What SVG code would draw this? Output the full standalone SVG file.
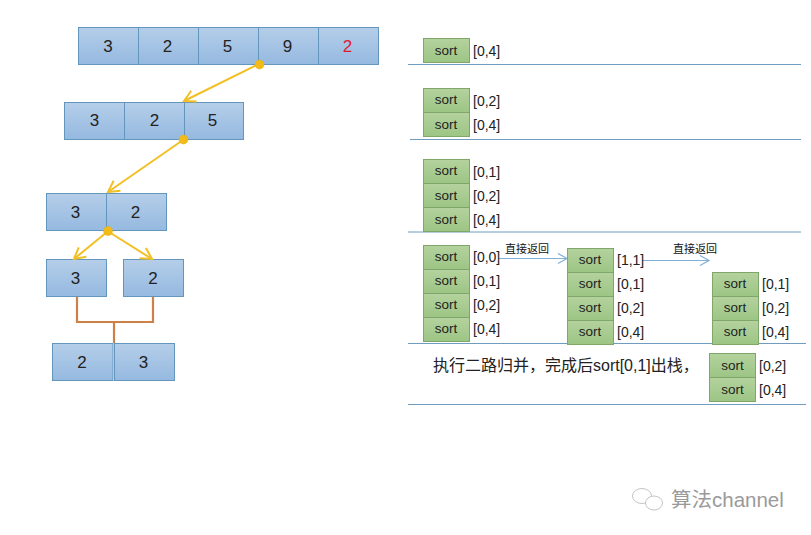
<svg xmlns="http://www.w3.org/2000/svg" width="811" height="535" viewBox="0 0 811 535">
<style>
.c{fill:url(#b);stroke:#6496bd;stroke-width:1}
.s{fill:url(#g);stroke:#7fa76a;stroke-width:1}
text{font-family:"Liberation Sans","Noto Sans CJK SC",sans-serif;fill:#222}
.n{font-size:17px;text-anchor:middle}
.t{font-size:13.5px;text-anchor:middle}
.l{font-size:14px}
.z{font-size:11px;text-anchor:middle;fill:#111}
.d{stroke:#6f9cbf;stroke-width:1;fill:none}
.y{stroke:#f2c025;stroke-width:2;fill:none;marker-end:url(#ya)}
.o{stroke:#cf8047;stroke-width:2.2;fill:none}
.a{stroke:#7fb0d8;stroke-width:1.2;fill:none;marker-end:url(#ba)}
.dot{fill:#f2bb1a;stroke:#e5ae0c;stroke-width:.5}
</style>
<defs>
<linearGradient id="b" x1="0" y1="0" x2="0" y2="1"><stop offset="0" stop-color="#b5cee9"/><stop offset="1" stop-color="#95b9e0"/></linearGradient>
<linearGradient id="g" x1="0" y1="0" x2="0" y2="1"><stop offset="0" stop-color="#b4d29e"/><stop offset="1" stop-color="#9cc584"/></linearGradient>
<marker id="ya" markerUnits="userSpaceOnUse" markerWidth="14" markerHeight="14" refX="12" refY="7" orient="auto"><path d="M1 1L12 7L1 13" fill="none" stroke="#f2c025" stroke-width="2"/></marker>
<marker id="ba" markerUnits="userSpaceOnUse" markerWidth="12" markerHeight="12" refX="10" refY="6" orient="auto"><path d="M1 1L10 6L1 11" fill="none" stroke="#7fb0d8" stroke-width="1.2"/></marker>
</defs>
<rect width="811" height="535" fill="#fff"/>

<g id="array-full">
<rect class="c" x="78.5" y="27.5" width="60" height="37"/><rect class="c" x="138.5" y="27.5" width="60" height="37"/><rect class="c" x="198.5" y="27.5" width="60" height="37"/><rect class="c" x="258.5" y="27.5" width="60" height="37"/><rect class="c" x="318.5" y="27.5" width="60" height="37"/>
<text class="n" x="108" y="52">3</text><text class="n" x="167.5" y="52">2</text><text class="n" x="227.5" y="52">5</text><text class="n" x="287.5" y="52">9</text><text class="n" x="347.5" y="52" style="fill:#e01b2f">2</text>
</g>
<g id="array-left3">
<rect class="c" x="64.5" y="102.5" width="60" height="37"/><rect class="c" x="124.5" y="102.5" width="60" height="37"/><rect class="c" x="184.5" y="102.5" width="59" height="37"/>
<text class="n" x="94.5" y="126">3</text><text class="n" x="154.5" y="126">2</text><text class="n" x="212.5" y="126">5</text>
</g>
<g id="array-left2">
<rect class="c" x="46.5" y="193.5" width="60" height="37"/><rect class="c" x="106.5" y="193.5" width="60" height="37"/>
<text class="n" x="75.5" y="218">3</text><text class="n" x="135.5" y="218">2</text>
</g>
<g id="leaf-3"><rect class="c" x="46.5" y="259.5" width="60" height="37"/><text class="n" x="75.5" y="284">3</text></g>
<g id="leaf-2"><rect class="c" x="123.5" y="259.5" width="60" height="37"/><text class="n" x="153" y="284">2</text></g>
<g id="merged">
<rect class="c" x="52.5" y="343.5" width="60.5" height="37"/><rect class="c" x="114.5" y="343.5" width="60" height="37"/>
<text class="n" x="82" y="368">2</text><text class="n" x="143.5" y="368">3</text>
</g>

<g id="connectors">
<path class="y" d="M259 64L184 101"/>
<path class="y" d="M183 140L108 192"/>
<path class="y" d="M107 232L74 259"/>
<path class="y" d="M109 232L152 259"/>
<path class="o" d="M77 297V322H153V297M114 322V343"/>
<circle class="dot" cx="259.500" cy="64.500" r="4.500"/>
<circle class="dot" cx="183.500" cy="139.500" r="4.500"/>
<circle class="dot" cx="108" cy="231" r="4.500"/>
<path class="a" d="M499 258.500H567"/>
<path class="a" d="M642 260.500H709"/>
</g>

<g id="dividers">
<path class="d" d="M408 64.500H801M410 139.500H801M408 232H801M408 343.500H806M408 404.500H806"/>
</g>

<g id="stack-1">
<rect class="s" x="423.500" y="38.500" width="46" height="24"/><text class="t" x="446" y="55">sort</text>
<text class="l" x="473" y="56">[0,4]</text>
</g>
<g id="stack-2">
<rect class="s" x="423.500" y="88.500" width="46" height="24"/><rect class="s" x="423.500" y="112.500" width="46" height="24"/>
<text class="t" x="446" y="104">sort</text><text class="t" x="446" y="129">sort</text>
<text class="l" x="473" y="106">[0,2]</text><text class="l" x="473" y="130">[0,4]</text>
</g>
<g id="stack-3">
<rect class="s" x="423.500" y="159.500" width="46" height="24"/><rect class="s" x="423.500" y="183.500" width="46" height="24"/><rect class="s" x="423.500" y="207.500" width="46" height="24"/>
<text class="t" x="446" y="175">sort</text><text class="t" x="446" y="200">sort</text><text class="t" x="446" y="224">sort</text>
<text class="l" x="473" y="177">[0,1]</text><text class="l" x="473" y="201">[0,2]</text><text class="l" x="473" y="225">[0,4]</text>
</g>
<g id="stack-4a">
<rect class="s" x="423.500" y="245.500" width="46" height="24"/><rect class="s" x="423.500" y="269.500" width="46" height="24"/><rect class="s" x="423.500" y="293.500" width="46" height="24"/><rect class="s" x="423.500" y="317.500" width="46" height="24"/>
<text class="t" x="446" y="261">sort</text><text class="t" x="446" y="285">sort</text><text class="t" x="446" y="309">sort</text><text class="t" x="446" y="333">sort</text>
<text class="l" x="473" y="262">[0,0]</text><text class="l" x="473" y="286">[0,1]</text><text class="l" x="473" y="310">[0,2]</text><text class="l" x="473" y="334">[0,4]</text>
</g>
<g id="stack-4b">
<rect class="s" x="567.500" y="248.500" width="46" height="24"/><rect class="s" x="567.500" y="272.500" width="46" height="24"/><rect class="s" x="567.500" y="296.500" width="46" height="24"/><rect class="s" x="567.500" y="320.500" width="46" height="24"/>
<text class="t" x="590" y="264">sort</text><text class="t" x="590" y="288">sort</text><text class="t" x="590" y="312">sort</text><text class="t" x="590" y="336">sort</text>
<text class="l" x="617" y="265">[1,1]</text><text class="l" x="617" y="289">[0,1]</text><text class="l" x="617" y="313">[0,2]</text><text class="l" x="617" y="337">[0,4]</text>
</g>
<g id="stack-4c">
<rect class="s" x="712.500" y="272.500" width="46" height="24"/><rect class="s" x="712.500" y="296.500" width="46" height="24"/><rect class="s" x="712.500" y="320.500" width="46" height="24"/>
<text class="t" x="735" y="288">sort</text><text class="t" x="735" y="312">sort</text><text class="t" x="735" y="336">sort</text>
<text class="l" x="762" y="289">[0,1]</text><text class="l" x="762" y="313">[0,2]</text><text class="l" x="762" y="337">[0,4]</text>
</g>
<g id="stack-5">
<rect class="s" x="709.500" y="353.500" width="46" height="24"/><rect class="s" x="709.500" y="377.500" width="46" height="24"/>
<text class="t" x="732.500" y="370">sort</text><text class="t" x="732.500" y="394">sort</text>
<text class="l" x="759" y="371">[0,2]</text><text class="l" x="759" y="395">[0,4]</text>
</g>

<g id="labels">
<text class="z" x="527" y="253">直接返回</text>
<text class="z" x="695" y="253">直接返回</text>
<text x="433" y="371" style="font-size:16px">执行二路归并，完成后sort[0,1]出栈，</text>
</g>

<g id="watermark">
<ellipse cx="642" cy="496" rx="9.500" ry="7.500" fill="#fff" stroke="#c4c4c4"/>
<ellipse cx="654" cy="503" rx="8.500" ry="7" fill="#fff" stroke="#c4c4c4"/>
<text x="671" y="507" style="font-size:20.500px;fill:#9a9a9a">算法channel</text>
</g>
</svg>
